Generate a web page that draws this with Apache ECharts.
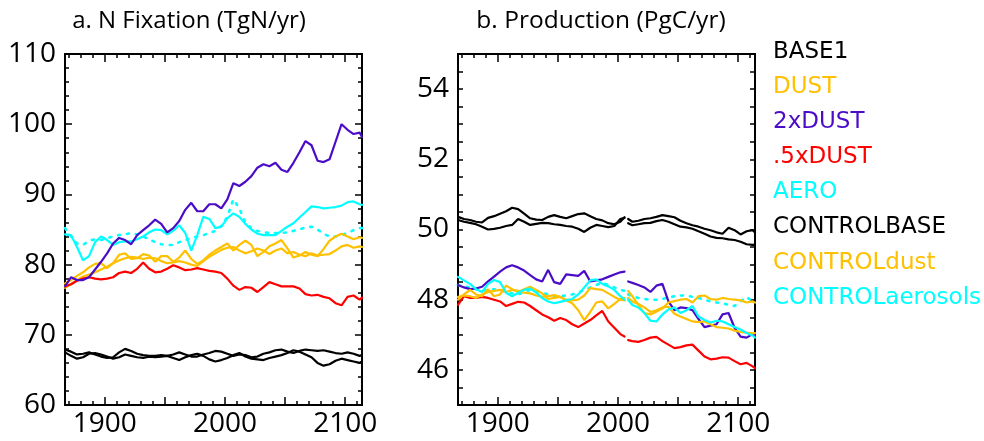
<!DOCTYPE html>
<html>
<head>
<meta charset="utf-8">
<script src="https://cdn.jsdelivr.net/npm/echarts@6/dist/echarts.min.js"></script>
<style>html,body{margin:0;padding:0;background:#fff;}#c{width:984px;height:441px;}</style>
</head>
<body>
<div id="c"></div>
<script>
// ---------- data ----------
const yearsA = [1867,1872,1877,1882,1887,1892,1897,1902,1907,1912,1917,1922,1927,1932,1937,1942,1947,1952,1957,1962,1967,1972,1977,1982,1987,1992,1997,2002,2007,2012,2017,2022,2027,2032,2037,2042,2047,2052,2057,2062,2067,2072,2077,2082,2087,2092,2097,2102,2107,2112,2114];

const nfixBase1 = [67.9,67.6,67.2,67.3,67.5,67.2,66.9,66.7,66.8,67.5,68.0,67.7,67.3,67.1,67.0,67.0,67.1,67.0,67.2,67.5,67.2,66.9,66.9,67.2,67.4,67.7,67.6,67.3,67.0,67.2,67.1,66.8,66.9,67.3,67.5,67.8,67.9,67.6,67.4,67.7,67.9,67.8,67.7,67.8,67.6,67.4,67.3,67.5,67.3,67.0,67.1];
const nfixDust = [77.3,77.8,78.4,78.9,79.6,80.1,80.2,79.5,80.2,81.4,81.6,80.8,80.9,81.5,81.3,80.4,81.2,81.2,80.4,81.0,82.0,80.8,80.1,80.6,81.4,82.0,82.5,83.0,82.0,82.8,83.4,82.8,81.2,81.8,82.6,83.0,83.5,82.3,81.0,81.3,81.8,81.4,81.2,82.2,83.4,84.0,84.4,84.0,83.6,83.9,83.8];
const nfix2xDust = [76.9,78.2,77.8,77.8,78.2,79.3,80.4,81.6,83.0,83.8,83.5,82.9,84.2,84.9,85.6,86.4,85.8,84.6,85.2,86.2,87.8,88.8,87.6,87.6,88.6,88.6,88.0,89.3,91.6,91.2,91.8,92.6,93.8,94.3,94.0,94.5,93.5,93.2,94.5,96.0,97.6,97.0,94.8,94.6,95.0,97.5,100.0,99.2,98.6,98.8,98.2];
const nfixHalfDust = [76.9,77.2,77.7,78.0,78.2,78.0,77.9,78.0,78.2,78.8,79.0,78.8,79.4,80.3,79.4,78.9,79.0,79.4,79.9,79.6,79.2,79.3,79.5,79.3,79.1,79.0,78.8,78.0,77.0,76.4,76.8,76.7,76.1,76.8,77.5,77.2,76.9,76.9,76.9,76.6,75.8,75.6,75.7,75.4,75.2,74.5,74.2,75.4,75.6,75.0,75.3];
const nfixAero = [84.3,84.2,82.5,80.6,81.2,83.2,84.0,83.5,82.8,83.2,83.3,83.3,83.6,84.0,84.6,85.0,84.9,84.3,84.8,85.6,84.5,82.0,84.2,86.8,86.5,85.2,85.4,86.6,87.3,86.8,85.8,85.0,84.4,84.2,84.2,84.2,84.8,85.4,85.9,86.7,87.5,88.3,88.2,88.0,88.1,88.2,88.4,88.9,89.0,88.6,88.5];
const nfixControlBase = [67.5,67.0,66.6,66.8,67.3,67.4,67.2,66.9,66.6,66.8,67.2,67.0,66.8,66.7,66.9,66.8,66.9,67.0,66.7,66.4,66.8,67.1,67.3,67.0,66.5,66.2,66.4,66.7,67.1,67.4,66.9,66.6,66.5,66.4,66.7,66.9,67.1,67.4,67.8,67.6,67.2,66.8,66.0,65.6,65.8,66.3,66.6,66.4,66.2,66.0,66.2];
const nfixControlDust = [76.7,77.2,77.8,78.3,78.6,78.9,79.3,79.7,80.2,80.6,80.9,81.1,81.0,80.8,81.0,80.9,80.5,80.2,80.3,80.5,80.3,80.0,79.8,80.5,81.1,81.6,82.1,82.4,82.5,82.0,81.6,81.9,82.3,82.0,81.5,82.0,82.3,81.6,81.8,81.4,81.2,81.6,81.3,81.4,81.5,82.0,82.6,82.8,82.4,82.6,82.5];
const nfixControlAero = [85.2,84.0,83.0,82.8,83.4,83.6,83.5,83.8,84.0,84.2,84.3,84.5,84.3,84.0,83.6,83.2,82.9,82.8,82.8,83.2,83.5,83.8,84.0,84.2,84.5,84.8,85.5,86.8,89.3,88.0,86.0,85.2,84.8,84.6,84.5,84.5,84.5,84.6,84.8,85.0,85.3,85.4,85.0,84.4,84.0,84.0,84.2,84.5,84.9,85.2,85.2];

const yearsB = [1867,1872,1877,1882,1887,1892,1897,1902,1907,1912,1917,1922,1927,1932,1937,1942,1947,1952,1957,1962,1967,1972,1977,1982,1987,1992,1997,2002,2005.5,2007,2008.5,2012,2017,2022,2027,2032,2037,2042,2047,2052,2057,2062,2067,2072,2077,2082,2087,2092,2097,2102,2107,2112,2114];

const prodBase1 = [50.36,50.30,50.27,50.22,50.20,50.33,50.38,50.45,50.52,50.62,50.58,50.45,50.32,50.28,50.27,50.36,50.41,50.36,50.32,50.38,50.44,50.46,50.38,50.30,50.26,50.18,50.15,50.22,50.35,null,50.30,50.22,50.25,50.30,50.32,50.36,50.41,50.38,50.35,50.25,50.18,50.12,50.08,50.02,49.98,49.92,49.88,50.05,49.98,49.86,49.95,49.98,49.92];
const prodDust = [48.00,48.15,48.28,48.15,48.10,48.30,48.10,48.15,48.40,48.30,48.22,48.30,48.37,48.28,48.18,48.02,48.05,48.08,47.98,47.90,47.70,47.42,47.65,47.92,47.95,47.75,47.88,48.02,48.05,null,48.25,48.10,47.85,47.62,47.58,47.66,47.75,47.92,47.96,48.00,48.02,47.92,48.10,48.12,48.02,48.00,48.05,48.02,48.00,47.98,47.92,47.95,47.92];
const prod2xDust = [48.42,48.35,48.30,48.32,48.37,48.52,48.66,48.80,48.92,48.98,48.92,48.83,48.70,48.58,48.52,48.85,48.50,48.45,48.72,48.70,48.68,48.82,48.52,48.55,48.58,48.65,48.72,48.78,48.80,null,48.52,48.48,48.42,48.35,48.22,48.40,48.45,47.95,47.70,47.78,47.76,47.70,47.45,47.22,47.26,47.30,47.58,47.62,47.20,46.95,46.92,47.02,46.98];
const prodHalfDust = [47.85,48.10,48.05,48.05,48.08,48.05,48.00,47.95,47.82,47.88,47.94,47.92,47.82,47.70,47.58,47.50,47.40,47.48,47.42,47.30,47.22,47.32,47.42,47.55,47.68,47.38,47.20,47.02,46.95,null,46.85,46.82,46.80,46.85,46.92,46.94,46.82,46.72,46.62,46.65,46.70,46.72,46.55,46.38,46.30,46.32,46.36,46.35,46.25,46.16,46.20,46.10,46.05];
const prodAero = [48.65,48.55,48.45,48.30,48.22,48.45,48.56,48.50,48.20,48.10,48.20,48.28,48.32,48.20,48.05,47.95,47.90,47.94,47.98,48.02,48.15,48.35,48.55,48.58,48.45,48.38,48.28,48.10,48.00,null,48.00,47.85,47.78,47.62,47.40,47.38,47.58,47.72,47.78,47.62,47.70,47.82,47.52,47.42,47.35,47.40,47.38,47.30,47.22,47.15,47.05,46.98,46.92];
const prodControlBase = [50.27,50.22,50.19,50.15,50.08,50.00,50.02,50.05,50.10,50.13,50.30,50.22,50.13,50.16,50.19,50.18,50.15,50.13,50.10,50.08,50.02,49.93,50.05,50.13,50.10,50.07,50.10,50.30,50.33,null,50.18,50.12,50.15,50.18,50.19,50.24,50.27,50.22,50.15,50.08,50.06,50.02,49.95,49.88,49.80,49.76,49.75,49.72,49.70,49.65,49.58,49.56,49.57];
const prodControlDust = [48.08,48.12,48.10,48.05,48.15,48.22,48.25,48.28,48.22,48.28,48.25,48.20,48.18,48.12,48.08,48.10,48.13,48.08,48.00,47.98,48.00,48.12,48.33,48.30,48.28,48.18,48.08,48.00,47.98,null,48.05,47.95,47.88,47.78,47.65,47.70,47.78,47.80,47.60,47.52,47.45,47.38,47.36,47.38,47.30,47.22,47.20,47.18,47.12,47.08,47.06,47.04,47.05];
const prodControlAero = [48.42,48.38,48.35,48.30,48.25,48.28,48.30,48.28,48.22,48.18,48.15,48.22,48.28,48.25,48.20,48.15,48.10,48.10,48.12,48.15,48.20,48.28,48.35,48.42,48.48,48.42,48.35,48.28,48.25,null,48.15,48.10,48.05,48.02,48.00,48.00,48.02,48.06,48.10,48.12,48.12,48.08,48.05,48.00,47.95,47.92,47.90,47.85,47.82,47.95,48.08,47.95,47.92];

const xTickLabels = [1900, 2000, 2100];
const xTicks = [1870,1880,1890,1900,1910,1920,1930,1940,1950,1960,1970,1980,1990,2000,2010,2020,2030,2040,2050,2060,2070,2080,2090,2100,2110];
const xMajorTicks = [1900, 1950, 2000, 2050, 2100];
const yLabelsB = [46, 48, 50, 52, 54];
const yTicksB = [45.5,46,46.5,47,47.5,48,48.5,49,49.5,50,50.5,51,51.5,52,52.5,53,53.5,54,54.5];

const legendNames = ['BASE1','DUST','2xDUST','.5xDUST','AERO','CONTROLBASE','CONTROLdust','CONTROLaerosols'];

// ---------- styles ----------
const C = {black:'#000000', orange:'#FFC000', purple:'#4B0CC8', red:'#FF0000', cyan:'#00FFFF'};
const legendColors = [C.black, C.orange, C.purple, C.red, C.cyan, C.black, C.orange, C.cyan];

const seriesDefsA = [
  ['BASE1', nfixBase1, C.black, false],
  ['CONTROLBASE', nfixControlBase, C.black, false],
  ['CONTROLaerosols', nfixControlAero, C.cyan, true],
  ['DUST', nfixDust, C.orange, false],
  ['CONTROLdust', nfixControlDust, C.orange, false],
  ['.5xDUST', nfixHalfDust, C.red, false],
  ['AERO', nfixAero, C.cyan, false],
  ['2xDUST', nfix2xDust, C.purple, false]
];
const seriesDefsB = [
  ['BASE1', prodBase1, C.black, false],
  ['CONTROLBASE', prodControlBase, C.black, false],
  ['.5xDUST', prodHalfDust, C.red, false],
  ['CONTROLaerosols', prodControlAero, C.cyan, true],
  ['2xDUST', prod2xDust, C.purple, false],
  ['CONTROLdust', prodControlDust, C.orange, false],
  ['DUST', prodDust, C.orange, false],
  ['AERO', prodAero, C.cyan, false]
];

function mk(def, years, gi) {
  const [name, vals, color, dotted] = def;
  return {
    name: name, type: 'line', xAxisIndex: gi * 4, yAxisIndex: gi * 2,
    data: years.map((y, i) => [y, vals[i] === null ? '-' : vals[i]]),
    symbol: 'none', connectNulls: false, animation: false, silent: true,
    lineStyle: {color: color, width: dotted ? 2.6 : 2.2, type: dotted ? [2, 7] : 'solid', cap: 'round'},
    itemStyle: {color: color}
  };
}

const FONT = 'Open Sans';
const plain = v => String(v);
const axisLine = {show: true, onZero: false, lineStyle: {color: '#000', width: 2}};
function xAx(gi, pos, labels, ticks, len) {
  return {
    type: 'value', gridIndex: gi, position: pos, min: 1867, max: 2114,
    axisLine: axisLine, splitLine: {show: false},
    axisTick: {show: true, inside: true, length: len, customValues: ticks, lineStyle: {color: '#000', width: 1.5}},
    axisLabel: {show: labels, customValues: xTickLabels, formatter: plain, margin: 5, color: '#000', fontFamily: FONT, fontSize: 28}
  };
}
function yAxA(pos, labels) {
  return {
    type: 'value', gridIndex: 0, position: pos, min: 60, max: 110, interval: 10,
    axisLine: axisLine, splitLine: {show: false},
    axisTick: {show: true, inside: true, length: 7, lineStyle: {color: '#000', width: 1.5}},
    minorTick: {show: true, splitNumber: 5, length: 4, lineStyle: {color: '#000', width: 1.5}},
    axisLabel: {show: labels, formatter: plain, margin: 9, color: '#000', fontFamily: FONT, fontSize: 28}
  };
}
function yAxB(pos, labels) {
  return {
    type: 'value', gridIndex: 1, position: pos, min: 45, max: 55,
    axisLine: axisLine, splitLine: {show: false},
    axisTick: {show: true, inside: true, length: 5, customValues: yTicksB, lineStyle: {color: '#000', width: 1.5}},
    axisLabel: {show: labels, customValues: yLabelsB, formatter: plain, margin: 9, color: '#000', fontFamily: FONT, fontSize: 28}
  };
}

const chart = echarts.init(document.getElementById('c'), null, {renderer: 'canvas'});
chart.setOption({
  animation: false,
  backgroundColor: '#fff',
  grid: [
    {left: 65, top: 54, width: 297, height: 351},
    {left: 458, top: 54, width: 297, height: 351}
  ],
  xAxis: [
    xAx(0, 'bottom', true, xTicks, 4), xAx(0, 'top', false, xTicks, 4),
    xAx(0, 'bottom', false, xMajorTicks, 8), xAx(0, 'top', false, xMajorTicks, 8),
    xAx(1, 'bottom', true, xTicks, 4), xAx(1, 'top', false, xTicks, 4),
    xAx(1, 'bottom', false, xMajorTicks, 8), xAx(1, 'top', false, xMajorTicks, 8)
  ],
  yAxis: [yAxA('left', true), yAxA('right', false), yAxB('left', true), yAxB('right', false)],
  series: seriesDefsA.map(d => mk(d, yearsA, 0)).concat(seriesDefsB.map(d => mk(d, yearsB, 1))),
  graphic: [
    {type: 'text', x: 189, y: 21, style: {text: 'a. N Fixation (TgN/yr)', fill: '#000', font: '24px "Open Sans"', textAlign: 'center', textVerticalAlign: 'middle'}},
    {type: 'text', x: 601, y: 21, style: {text: 'b. Production (PgC/yr)', fill: '#000', font: '24.5px "Open Sans"', textAlign: 'center', textVerticalAlign: 'middle'}}
  ].concat(legendNames.map((n, i) => ({
    type: 'text', x: 773, y: 52 + i * 35.1,
    style: {text: n, fill: legendColors[i], font: '23px "DejaVu Sans"', textAlign: 'left', textVerticalAlign: 'middle'}
  })))
});
</script>
</body>
</html>
